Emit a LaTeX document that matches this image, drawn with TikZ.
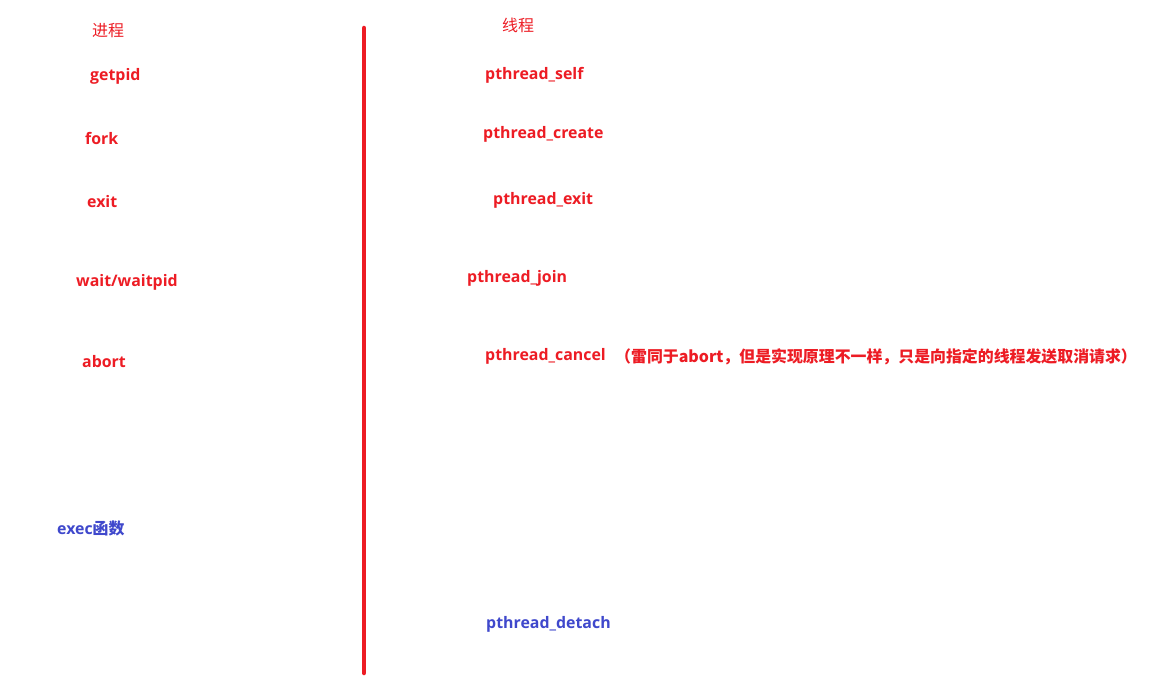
\documentclass[tikz,border=0pt]{standalone}
\usepackage{fontspec}
\setmainfont{Open Sans}
\newfontfamily\cjk{Noto Sans CJK SC}
\definecolor{lred}{HTML}{ED1C24}
\definecolor{lblue}{HTML}{3F48CC}
\begin{document}
\begin{tikzpicture}[x=1pt,y=-1pt,
  lbl/.style={anchor=west,inner sep=0pt,font=\fontsize{15.9}{18}\selectfont\bfseries,text=lred},
  blbl/.style={lbl,text=lblue},
  ttl/.style={anchor=west,inner sep=0pt,font=\fontsize{16}{18}\selectfont\cjk,text=lred}]
\useasboundingbox[fill=white] (0,0) rectangle (1156,677);
\coordinate (top) at (364,28);
\coordinate (bot) at (364,673);
\draw[lred,line width=4.5pt,line cap=round] (top) -- (bot);
\node[ttl] (t1) at (92,31) {进程};
\node[ttl] (t2) at (502,25) {线程};
\node[lbl] (a1) at (90,76) {getpid};
\node[lbl] (a2) at (85,138) {fork};
\node[lbl] (a3) at (87,202) {exit};
\node[lbl] (a4) at (76,282) {wait/waitpid};
\node[lbl] (a5) at (82,362) {abort};
\node[blbl] (a6) at (57,528) {exec{\cjk 函数}};
\node[lbl] (b1) at (485,75) {pthread\_self};
\node[lbl] (b2) at (483,134) {pthread\_create};
\node[lbl] (b3) at (493,200) {pthread\_exit};
\node[lbl] (b4) at (467,278) {pthread\_join};
\node[lbl] (b5) at (485,356) {pthread\_cancel};
\node[lbl,font=\fontsize{15.9}{18}\selectfont\cjk\bfseries] (b6) at (615,357) {（雷同于abort，但是实现原理不一样，只是向指定的线程发送取消请求）};
\node[blbl] (b7) at (486,624) {pthread\_detach};
\end{tikzpicture}
\end{document}
